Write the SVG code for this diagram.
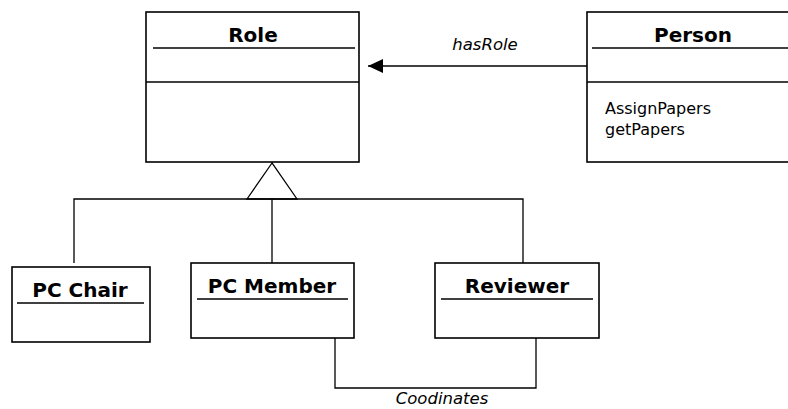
<svg xmlns="http://www.w3.org/2000/svg" width="788" height="409" viewBox="0 0 788 409">
<style>
.box{fill:#fff;stroke:#000;stroke-width:1.6}
.sep{stroke:#000;stroke-width:1.3}
.title{font-family:"DejaVu Sans",Verdana,sans-serif;font-weight:bold;font-size:20px;text-anchor:middle;fill:#000}
.op{font-family:"DejaVu Sans",Verdana,sans-serif;font-size:16px;fill:#000}
.lbl{font-family:"DejaVu Sans",Verdana,sans-serif;font-style:italic;font-size:16.5px;text-anchor:middle;fill:#000}
.conn{fill:none;stroke:#000;stroke-width:1.3}
</style>
<defs>
<marker id="arr" markerWidth="16" markerHeight="14" refX="15" refY="7" orient="auto" markerUnits="userSpaceOnUse">
<path d="M0,0 L15,7 L0,14 Z" fill="#000"/>
</marker>
</defs>
<rect width="788" height="409" fill="#fff"/>
<g id="connectors">
<line class="conn" x1="587" y1="66" x2="368" y2="66" marker-end="url(#arr)"/>
<polyline class="conn" points="74,263 74,199 523,199 523,263"/>
<line class="conn" x1="272" y1="199" x2="272" y2="263"/>
<path class="conn" d="M272,163 L247,199 L297,199 Z" fill="#fff"/>
<polyline class="conn" points="335,338 335,388 536,388 536,338"/>
<text class="lbl" x="485" y="50">hasRole</text>
<text class="lbl" x="442" y="404">Coodinates</text>
</g>
<g id="role">
<rect class="box" x="146" y="12" width="213" height="150"/>
<text class="title" x="253" y="42">Role</text>
<line class="sep" x1="153" y1="48" x2="355" y2="48"/>
<line class="sep" x1="146" y1="82" x2="359" y2="82"/>
</g>
<g id="person">
<rect class="box" x="587" y="12" width="210" height="150"/>
<text class="title" x="693" y="42">Person</text>
<line class="sep" x1="592" y1="48" x2="788" y2="48"/>
<line class="sep" x1="587" y1="82" x2="788" y2="82"/>
<text class="op" x="605" y="114">AssignPapers</text>
<text class="op" x="605" y="135">getPapers</text>
</g>
<g id="pcchair">
<rect class="box" x="12" y="267" width="138" height="75"/>
<text class="title" x="80" y="297">PC Chair</text>
<line class="sep" x1="17" y1="303" x2="144" y2="303"/>
</g>
<g id="pcmember">
<rect class="box" x="191" y="263" width="163" height="75"/>
<text class="title" x="272" y="293">PC Member</text>
<line class="sep" x1="197" y1="299" x2="348" y2="299"/>
</g>
<g id="reviewer">
<rect class="box" x="435" y="263" width="164" height="75"/>
<text class="title" x="517" y="293">Reviewer</text>
<line class="sep" x1="441" y1="299" x2="593" y2="299"/>
</g>
</svg>
